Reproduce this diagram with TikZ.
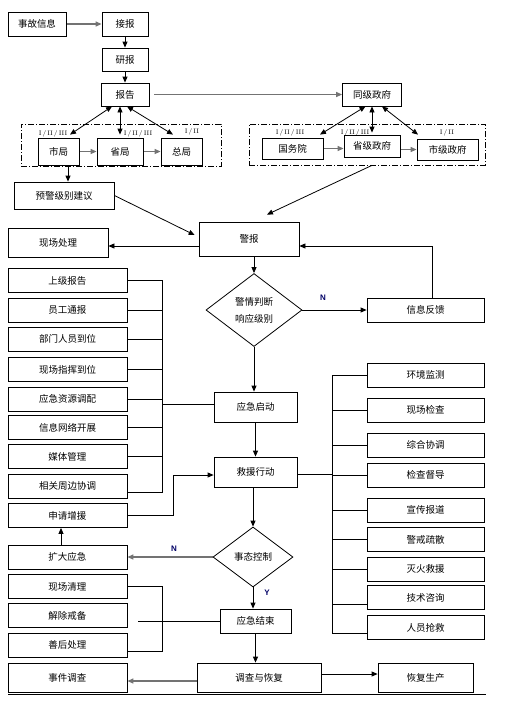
\documentclass[tikz,border=0pt]{standalone}
\usepackage{fontspec}
\usepackage{tikz}
\usetikzlibrary{shapes.geometric,arrows.meta}
\newfontfamily\cjk{Noto Sans CJK SC}
\newfontfamily\arial{Liberation Sans}
\pgfdeclarelayer{bg}
\pgfsetlayers{bg,main}

\tikzset{
  box/.style={draw, line width=0.8pt, inner sep=1pt, font=\cjk\fontsize{9.5}{11}\selectfont},
  lbox/.style={box, minimum width=119pt, minimum height=24pt},
  rbox/.style={box, minimum width=117pt, minimum height=24pt},
  dec/.style={box, diamond, inner sep=0pt, align=center},
  frame/.style={draw, line width=0.7pt, dash pattern=on 6pt off 2pt on 1pt off 2pt},
  lvl/.style={inner sep=0pt, font=\fontsize{6.5}{7}\selectfont},
  yn/.style={inner sep=0pt, text=blue!40!black, font=\arial\bfseries\fontsize{8}{9}\selectfont},
  ln/.style={line width=0.8pt},
  arr/.style={ln, -{Triangle[length=6pt,width=5pt]}},
  darr/.style={ln, {Triangle[length=6pt,width=5pt]}-{Triangle[length=6pt,width=5pt]}},
  garr/.style={arr, draw=black!55, line width=1.3pt},
}

\begin{document}
\begin{tikzpicture}[x=1pt, y=-1pt]
        \useasboundingbox (0,0) rectangle (512,705);
        % reporting chain
        \node (info) [box, minimum width=58pt, minimum height=24pt] at (37,24) {事故信息};
        \node (jiebao) [box, minimum width=46pt, minimum height=24pt] at (125,24) {接报};
        \node (yanbao) [box, minimum width=46pt, minimum height=23pt] at (125,59.5) {研报};
        \node (baogao) [box, minimum width=48pt, minimum height=23pt] at (125,94.5) {报告};
        \node (tongji) [box, minimum width=59pt, minimum height=23pt] at (372,94.5) {同级政府};
        \node (grp1) [frame, minimum width=200pt, minimum height=42pt] at (121,145) {};
        \node (grp2) [frame, minimum width=236pt, minimum height=41pt] at (367,144.5) {};
        \node (shiju) [box, minimum width=41pt, minimum height=27pt] at (58.5,151.5) {市局};
        \node (shengju) [box, minimum width=46pt, minimum height=27pt] at (120,151.5) {省局};
        \node (zongju) [box, minimum width=41pt, minimum height=27pt] at (181.5,151.5) {总局};
        \node (guowu) [box, minimum width=61pt, minimum height=21pt] at (292.5,148.5) {国务院};
        \node (shengzf) [box, minimum width=56pt, minimum height=22pt] at (372,146) {省级政府};
        \node (shizf) [box, minimum width=61pt, minimum height=21pt] at (447.5,149.5) {市级政府};
        \node (lv1) [lvl] at (53,134) {I\,/\,II\,/\,III};
        \node (lv2) [lvl] at (138,134) {I\,/\,II\,/\,III};
        \node (lv3) [lvl] at (192,132) {I\,/\,II};
        \node (lv4) [lvl] at (290,133) {I\,/\,II\,/\,III};
        \node (lv5) [lvl] at (355,133) {I\,/\,II\,/\,III};
        \node (lv6) [lvl] at (447,133) {I\,/\,II};
        \node (yujing) [box, minimum width=100pt, minimum height=27pt] at (64,195.5) {预警级别建议};
        % alarm and judgement
        \node (jingbao) [box, minimum width=100pt, minimum height=34pt] at (249,239) {警报};
        \node (xianchang) [box, minimum width=100pt, minimum height=29pt] at (58,242.5) {现场处理};
        \node (judge) [dec, minimum width=96pt, minimum height=73pt] at (254,310) {警情判断\\[6pt]响应级别};
        \node (fankui) [rbox] at (425.5,310) {信息反馈};
        \node (nN1) [yn] at (323,298) {N};
        % left list
        \node (shangji) [lbox] at (67.5,280.5) {上级报告};
        \node (yuangong) [lbox] at (67.5,310) {员工通报};
        \node (bumen) [lbox] at (67.5,339) {部门人员到位};
        \node (zhihui) [lbox] at (67.5,369.5) {现场指挥到位};
        \node (ziyuan) [lbox] at (67.5,399) {应急资源调配};
        \node (wangluo) [lbox] at (67.5,427.5) {信息网络开展};
        \node (meiti) [lbox] at (67.5,456.5) {媒体管理};
        \node (zhoubian) [lbox] at (67.5,486) {相关周边协调};
        \node (zengyuan) [lbox] at (67.5,515.5) {申请增援};
        \node (kuoda) [lbox] at (67.5,557) {扩大应急};
        \node (qingli) [lbox] at (67.5,586.5) {现场清理};
        \node (jiechu) [lbox] at (67.5,615.5) {解除戒备};
        \node (shanhou) [lbox] at (67.5,645) {善后处理};
        \node (shijian) [lbox, minimum height=29pt] at (67.5,677.5) {事件调查};
        % main column
        \node (qidong) [box, minimum width=83pt, minimum height=30pt] at (255.5,407) {应急启动};
        \node (jiuyuan) [box, minimum width=83pt, minimum height=30pt] at (255.5,472) {救援行动};
        \node (kongzhi) [dec, minimum width=80pt, minimum height=60pt] at (253,557) {事态控制};
        \node (nN2) [yn] at (174,549) {N};
        \node (nY) [yn] at (267,593) {Y};
        \node (jieshu) [box, minimum width=71pt, minimum height=24pt] at (255.5,621) {应急结束};
        \node (diaocha) [box, minimum width=124pt, minimum height=29pt] at (259,677.5) {调查与恢复};
        \node (huifu) [box, minimum width=95pt, minimum height=29pt] at (425.5,677.5) {恢复生产};
        % right list
        \node (huanjing) [rbox] at (425.5,375) {环境监测};
        \node (jiancha) [rbox] at (425.5,410) {现场检查};
        \node (zonghe) [rbox] at (425.5,445) {综合协调};
        \node (dudao) [rbox] at (425.5,475) {检查督导};
        \node (xuanchuan) [rbox] at (425.5,510) {宣传报道};
        \node (jingjie) [rbox] at (425.5,539.5) {警戒疏散};
        \node (miehuo) [rbox] at (425.5,569) {灭火救援};
        \node (jishu) [rbox] at (425.5,597.5) {技术咨询};
        \node (qiangjiu) [rbox] at (425.5,627.5) {人员抢救};
        \coordinate (lbus) at (162,404);
        \coordinate (rbus) at (332,474);
        \coordinate (jcut) at (138,621);
        \begin{pgfonlayer}{bg}
                \draw (info) edge [garr] (jiebao);
                \draw (jiebao) edge [arr] (yanbao);
                \draw (yanbao) edge [arr] (baogao);
                \draw (baogao.east) edge [garr, shorten <=5pt] (tongji.west);
                \draw ([xshift=-13pt]baogao.south) edge [darr] ([xshift=11.5pt,yshift=3pt]shiju.north);
                \draw ([xshift=-5pt]baogao.south) edge [darr] ([yshift=3pt]shengju.north);
                \draw ([xshift=2pt]baogao.south) edge [darr] ([xshift=-8.5pt,yshift=3pt]zongju.north);
                \draw (shiju) edge [garr] (shengju);
                \draw (shengju) edge [garr] (zongju);
                \draw ([xshift=-6.5pt]tongji.south) edge [darr] ([xshift=27.5pt,yshift=3pt]guowu.north);
                \draw (tongji.south) edge [darr] ([yshift=2pt]shengzf.north);
                \draw ([xshift=10pt]tongji.south) edge [darr] ([xshift=-29.5pt,yshift=4pt]shizf.north);
                \draw (guowu.east) edge [garr] (guowu.east -| shengzf.west);
                \draw (shengzf.east |- shizf.west) edge [garr] (shizf.west);
                \draw ([xshift=9.5pt]shiju.south) edge [arr] ([xshift=4pt]yujing.north);
                \draw (yujing.east) edge [arr] ([xshift=-4pt,yshift=4pt]jingbao.west);
                \draw (grp2.south -| shengzf) edge [arr] ([xshift=18pt,yshift=7pt]jingbao.north);
                \draw ([yshift=-7pt]jingbao.west) edge [arr] ([yshift=-7pt]jingbao.west -| xianchang.east);
                \draw (jingbao.south -| judge.north) edge [arr] (judge.north);
                \draw (judge) edge [arr] (fankui);
                \draw [arr] ([xshift=6.5pt]fankui.north) |- ([yshift=-7pt]jingbao.east);
                \draw (judge.south) edge [arr] (judge.south |- qidong.north);
                % left bus
                \draw [ln] (shangji.east) -- (shangji.east -| lbus) -- ([yshift=-6.5pt]zhoubian.east -| lbus) -- ([yshift=-6.5pt]zhoubian.east);
                \draw (yuangong.east) edge [ln] (yuangong.east -| lbus);
                \draw (bumen.east) edge [ln] (bumen.east -| lbus);
                \draw (zhihui.east) edge [ln] (zhihui.east -| lbus);
                \draw (ziyuan.east) edge [ln] (ziyuan.east -| lbus);
                \draw (wangluo.east) edge [ln] (wangluo.east -| lbus);
                \draw (meiti.east) edge [ln] (meiti.east -| lbus);
                \draw ([yshift=3pt]qidong.west) edge [ln] ([yshift=3pt]qidong.west -| lbus);
                \draw (qidong) edge [arr] (jiuyuan);
                \draw [arr] (zengyuan.east) -- ++(46,0) |- ([yshift=-3pt]jiuyuan.west);
                % right bus
                \draw [ln] (huanjing.west) -- (huanjing.west -| rbus) -- ([yshift=-5.5pt]qiangjiu.west -| rbus) -- ([yshift=-5.5pt]qiangjiu.west);
                \draw ([yshift=-2pt]jiuyuan.east) edge [ln] ([yshift=-2pt]jiuyuan.east -| rbus);
                \draw (jiancha.west) edge [ln] (jiancha.west -| rbus);
                \draw (zonghe.west) edge [ln] (zonghe.west -| rbus);
                \draw (dudao.west) edge [ln] (dudao.west -| rbus);
                \draw (xuanchuan.west) edge [ln] (xuanchuan.west -| rbus);
                \draw (jingjie.west) edge [ln] (jingjie.west -| rbus);
                \draw (miehuo.west) edge [ln] (miehuo.west -| rbus);
                \draw ([yshift=-6.5pt]jishu.west) edge [ln] ([yshift=-6.5pt]jishu.west -| rbus);
                % control and closing
                \draw (jiuyuan.south -| kongzhi.north) edge [arr] (kongzhi.north);
                \draw (kongzhi.west) edge [garr] (kuoda.east);
                \draw ([xshift=-6.5pt]kuoda.north) edge [arr] ([xshift=-6.5pt]zengyuan.south);
                \draw (kongzhi.south) edge [arr] (kongzhi.south |- jieshu.north);
                \draw [ln] (qingli.east) -- (qingli.east -| lbus) -- ([yshift=-6pt]shanhou.east -| lbus) -- ([yshift=-6pt]shanhou.east);
                \draw (jcut) edge [ln] (jieshu.west);
                \draw (jieshu.south) edge [arr] (jieshu.south |- diaocha.north);
                \draw ([yshift=-3.5pt]diaocha.west) edge [garr] ([yshift=-3.5pt]diaocha.west -| shijian.east);
                \draw ([yshift=3.5pt]diaocha.east) edge [arr] ([yshift=3.5pt]diaocha.east -| huifu.west);
                \draw [ln] (8,694) -- (486,694);
        \end{pgfonlayer}
\end{tikzpicture}
\end{document}
